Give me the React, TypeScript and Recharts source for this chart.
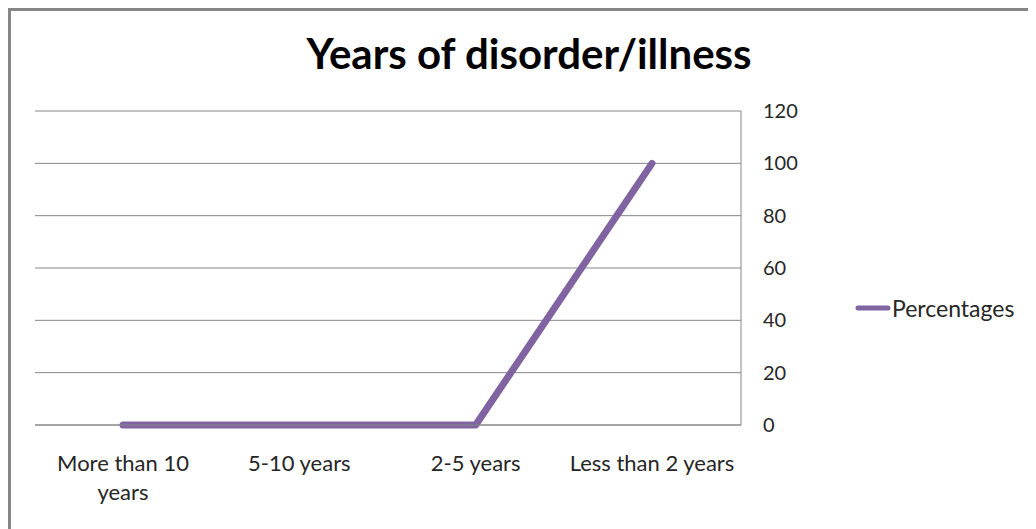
import React from 'react';
import { LineChart, Line, XAxis, YAxis, CartesianGrid, Legend } from 'recharts';

const categories = ['More than 10 years', '5-10 years', '2-5 years', 'Less than 2 years'];
const percentages = [0, 0, 0, 100];
const yTicks = [0, 20, 40, 60, 80, 100, 120];

const data = categories.map((name, i) => ({ name, Percentages: percentages[i] }));

const FONT = 'Lato, "Noto Sans", sans-serif';
const PURPLE = '#8064A2';
const GRAY = '#868686';
const LABEL_SIZE = 22;
const LABEL_MAX = 176;

// greedy word wrap, measured with a canvas
let ctx: CanvasRenderingContext2D | null = null;
const wrap = (label: string) => {
  if (!ctx) ctx = document.createElement('canvas').getContext('2d');
  if (!ctx) return [label];
  ctx.font = `${LABEL_SIZE}px ${FONT}`;
  const lines: string[] = [];
  let cur = '';
  label.split(' ').forEach((w) => {
    const next = cur ? `${cur} ${w}` : w;
    if (cur && ctx!.measureText(next).width > LABEL_MAX) {
      lines.push(cur);
      cur = w;
    } else {
      cur = next;
    }
  });
  if (cur) lines.push(cur);
  return lines;
};

const CategoryTick = (props: any) => {
  const { x, y, payload } = props;
  const lines = wrap(String(payload.value));
  return (
    <text x={x} y={y} textAnchor="middle" fill="#262626" fontSize={LABEL_SIZE} fontFamily={FONT}>
      {lines.map((l, i) => (
        <tspan key={i} x={x} dy={i === 0 ? '0.71em' : 29}>
          {l}
        </tspan>
      ))}
    </text>
  );
};

const LegendBox = () => (
  <div style={{ display: 'flex', alignItems: 'center', fontFamily: FONT, fontSize: 23, color: '#262626' }}>
    <svg width={36} height={10} style={{ marginRight: 1 }}>
      <line x1={3} y1={5} x2={33} y2={5} stroke={PURPLE} strokeWidth={5} strokeLinecap="round" />
    </svg>
    <span>Percentages</span>
  </div>
);

export default function App() {
  return (
    <div style={{ width: 1028, height: 521, overflow: 'hidden', position: 'relative' }}>
      <div
        style={{
          position: 'absolute',
          left: 0,
          top: 0,
          width: 1200,
          height: 700,
          borderTop: `3px solid ${GRAY}`,
          borderLeft: `3px solid ${GRAY}`,
          background: '#fff',
        }}
      >
        <div
          style={{
            position: 'absolute',
            left: 0,
            width: 1036,
            top: 17,
            textAlign: 'center',
            fontFamily: FONT,
            fontWeight: 700,
            fontSize: 42,
            color: '#000',
          }}
        >
          Years of disorder/illness
        </div>
        <LineChart
          width={1025}
          height={518}
          data={data}
          margin={{ top: 100, right: 0, bottom: 44, left: 24 }}
        >
          <CartesianGrid vertical={false} stroke={GRAY} />
          <XAxis
            dataKey="name"
            height={60}
            padding={{ left: 88, right: 89 }}
            axisLine={{ stroke: GRAY }}
            tickLine={false}
            tickMargin={24}
            tick={<CategoryTick />}
            interval={0}
          />
          <YAxis
            orientation="right"
            width={117}
            domain={[0, 120]}
            ticks={yTicks}
            axisLine={{ stroke: GRAY }}
            tickLine={false}
            tickMargin={16}
            tick={{ fill: '#262626', fontSize: 20, fontFamily: FONT }}
          />
          <Legend
            layout="vertical"
            align="right"
            verticalAlign="middle"
            content={<LegendBox />}
            wrapperStyle={{ width: 178, left: 844, top: 283 }}
          />
          <Line
            type="linear"
            dataKey="Percentages"
            stroke={PURPLE}
            strokeWidth={7}
            strokeLinecap="round"
            strokeLinejoin="round"
            dot={false}
            activeDot={false}
            isAnimationActive={false}
          />
        </LineChart>
      </div>
    </div>
  );
}
